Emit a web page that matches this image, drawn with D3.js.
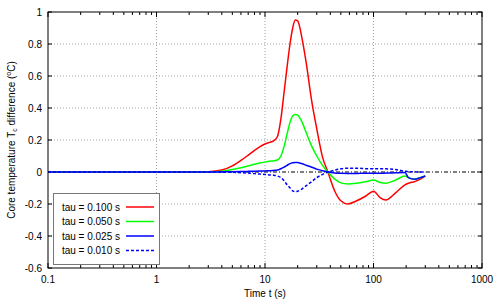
<!DOCTYPE html>
<html><head><meta charset="utf-8">
<script src="https://cdn.jsdelivr.net/npm/d3@7"></script>
<style>body{margin:0;background:#fff}svg{display:block;font-family:"Liberation Sans",Arial,sans-serif}</style>
</head><body><svg id="c" width="500" height="300"></svg>
<script>
const times = [0.1, 1, 2, 3, 4, 5, 6, 7, 8, 9, 10, 11, 12, 13, 14, 15, 16, 17, 18, 19, 20, 22, 24, 27, 30, 34, 38, 44, 50, 58, 70, 85, 100, 115, 130, 160, 195, 210, 240, 270, 300];
const tau100 = [0, 0, 0, 0.002, 0.012, 0.038, 0.072, 0.105, 0.135, 0.158, 0.175, 0.185, 0.195, 0.22, 0.33, 0.5, 0.66, 0.8, 0.9, 0.95, 0.945, 0.83, 0.68, 0.44, 0.27, 0.09, 0.0, -0.12, -0.18, -0.2, -0.18, -0.15, -0.12, -0.16, -0.175, -0.13, -0.08, -0.07, -0.06, -0.045, -0.025];
const tau050 = [0, 0, 0, 0, 0.005, 0.015, 0.027, 0.038, 0.048, 0.056, 0.062, 0.067, 0.07, 0.075, 0.1, 0.16, 0.24, 0.31, 0.35, 0.36, 0.355, 0.31, 0.245, 0.16, 0.1, 0.04, 0, -0.045, -0.068, -0.075, -0.07, -0.06, -0.05, -0.065, -0.07, -0.05, -0.025, -0.035, -0.045, -0.035, -0.025];
const tau025 = [0, 0, 0, 0, 0.001, 0.002, 0.003, 0.004, 0.005, 0.006, 0.007, 0.008, 0.01, 0.012, 0.02, 0.03, 0.042, 0.052, 0.058, 0.06, 0.059, 0.052, 0.042, 0.03, 0.018, 0.008, 0, -0.006, -0.008, -0.009, -0.009, -0.008, -0.008, -0.008, -0.007, -0.005, -0.003, -0.035, -0.045, -0.035, -0.025];
const tau010 = [0, 0, 0, 0, -0.001, -0.002, -0.004, -0.007, -0.01, -0.013, -0.015, -0.018, -0.02, -0.025, -0.035, -0.055, -0.08, -0.1, -0.118, -0.123, -0.12, -0.105, -0.085, -0.06, -0.035, -0.015, 0, 0.012, 0.02, 0.024, 0.024, 0.021, 0.02, 0.021, 0.02, 0.015, 0.005, 0.002, 0.001, 0, 0];
const seriesNames = ["tau = 0.100 s", "tau = 0.050 s", "tau = 0.025 s", "tau = 0.010 s"];
const seriesColors = ["#ff0000", "#00ff00", "#0000ff", "#0000ff"];
const seriesDash = [null, null, null, "3,2"];
const xTicks = [0.1, 1, 10, 100, 1000];
const xTickLabels = ["0.1", "1", "10", "100", "1000"];
const yTicks = [-0.6, -0.4, -0.2, 0, 0.2, 0.4, 0.6, 0.8, 1];
const yTickLabels = ["-0.6", "-0.4", "-0.2", "0", "0.2", "0.4", "0.6", "0.8", "1"];

const svg = d3.select("#c");
const L = 48, R = 482, T = 12, B = 268;
const FS = 10;
const x = d3.scaleLog().domain([0.1, 1000]).range([L, R]);
const y = d3.scaleLinear().domain([-0.6, 1]).range([B, T]);

const g = svg.append("g");
yTicks.filter(v => v !== 0 && v !== -0.6 && v !== 1).forEach(v => {
  g.append("line").attr("x1", L).attr("x2", R).attr("y1", y(v)).attr("y2", y(v))
    .attr("stroke", "#a0a0a0").attr("stroke-width", 1).attr("stroke-dasharray", "1,2");
});
[1, 10, 100].forEach(v => {
  g.append("line").attr("x1", x(v)).attr("x2", x(v)).attr("y1", T).attr("y2", B)
    .attr("stroke", "#a0a0a0").attr("stroke-width", 1).attr("stroke-dasharray", "1,2");
});
g.append("line").attr("x1", L).attr("x2", R).attr("y1", y(0)).attr("y2", y(0))
  .attr("stroke", "#000").attr("stroke-width", 1).attr("stroke-dasharray", "4,2,1,2");

const minor = [];
for (let d = 0.1; d < 1000; d *= 10) for (let k = 1; k <= 9; k++) minor.push(+(d * k).toPrecision(3));
minor.push(1000);
minor.forEach(v => {
  const major = xTicks.includes(v);
  const len = major ? 5 : 3;
  g.append("line").attr("x1", x(v)).attr("x2", x(v)).attr("y1", B).attr("y2", B - len).attr("stroke", "#000").attr("stroke-width", 1);
  g.append("line").attr("x1", x(v)).attr("x2", x(v)).attr("y1", T).attr("y2", T + len).attr("stroke", "#000").attr("stroke-width", 1);
});
yTicks.forEach(v => {
  g.append("line").attr("x1", L).attr("x2", L + 4).attr("y1", y(v)).attr("y2", y(v)).attr("stroke", "#000");
  g.append("line").attr("x1", R).attr("x2", R - 4).attr("y1", y(v)).attr("y2", y(v)).attr("stroke", "#000");
});

const allSeries = [tau100, tau050, tau025, tau010];
const line = d3.line().x(d => x(d[0])).y(d => y(d[1])).curve(d3.curveMonotoneX);
const pl = svg.append("g");
allSeries.forEach((s, i) => {
  pl.append("path").attr("d", line(times.map((t, j) => [t, s[j]])))
    .attr("fill", "none").attr("stroke", seriesColors[i]).attr("stroke-width", 1.5)
    .attr("stroke-dasharray", seriesDash[i]);
});

svg.append("rect").attr("x", L).attr("y", T).attr("width", R - L).attr("height", B - T)
  .attr("fill", "none").attr("stroke", "#000").attr("stroke-width", 1);

xTicks.forEach((v, i) => {
  svg.append("text").attr("x", x(v)).attr("y", B + 15).attr("text-anchor", "middle")
    .attr("font-size", FS).text(xTickLabels[i]);
});
yTicks.forEach((v, i) => {
  svg.append("text").attr("x", L - 6).attr("y", y(v) + 3.5).attr("text-anchor", "end")
    .attr("font-size", FS).text(yTickLabels[i]);
});

svg.append("text").attr("x", (L + R) / 2).attr("y", 297).attr("text-anchor", "middle")
  .attr("font-size", FS).text("Time t (s)");
const yl = svg.append("text").attr("transform", `translate(15,${(T + B) / 2}) rotate(-90)`)
  .attr("text-anchor", "middle").attr("font-size", FS);
yl.append("tspan").text("Core temperature T");
yl.append("tspan").attr("font-size", 7).attr("dy", 2).text("c");
yl.append("tspan").attr("dy", -2).text(" difference (");
yl.append("tspan").attr("font-size", 7).attr("dy", -4).text("o");
yl.append("tspan").attr("dy", 4).text("C)");

const lg = svg.append("g");
lg.append("rect").attr("x", 53.5).attr("y", 193.5).attr("width", 106).attr("height", 71)
  .attr("fill", "#fff").attr("stroke", "#777").attr("stroke-width", 1);
seriesNames.forEach((n, i) => {
  const yy = 207 + i * 14.5;
  lg.append("text").attr("x", 120).attr("y", yy + 3.5).attr("text-anchor", "end").attr("font-size", FS).text(n);
  lg.append("line").attr("x1", 126).attr("x2", 154).attr("y1", yy).attr("y2", yy)
    .attr("stroke", seriesColors[i]).attr("stroke-width", 1.5).attr("stroke-dasharray", seriesDash[i]);
});
</script></body></html>
